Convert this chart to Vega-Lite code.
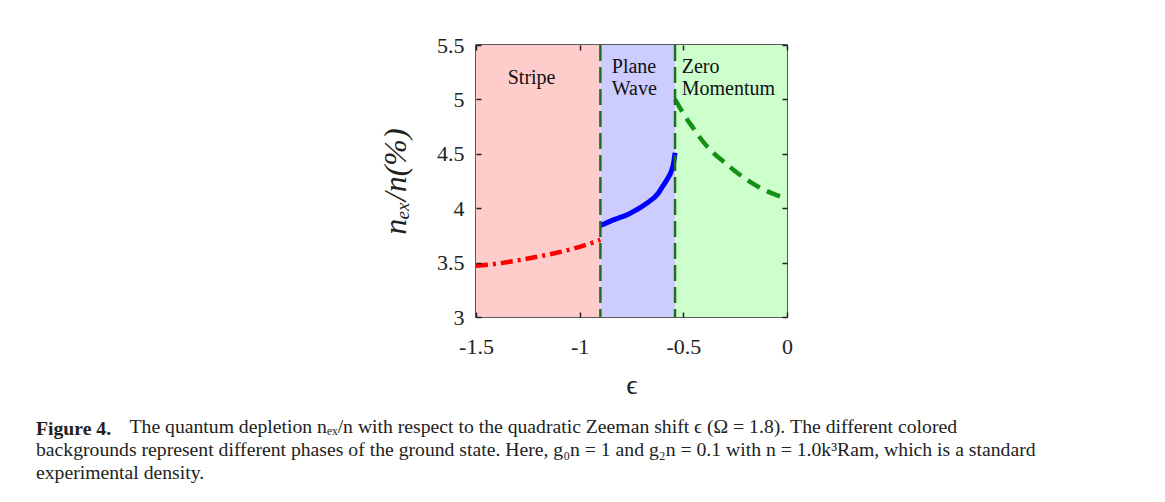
{
  "$schema": "https://vega.github.io/schema/vega-lite/v6.json",
  "width": 311,
  "height": 272,
  "autosize": {"type": "none"},
  "padding": {"left": 476, "top": 45, "right": 378, "bottom": 185},
  "background": "white",
  "config": {
    "view": {"stroke": "#222222", "strokeWidth": 1.5},
    "axis": {"grid": false, "domain": false, "tickColor": "#222222", "tickWidth": 1.5, "labelColor": "#222222", "titleColor": "#222222", "labelFont": "Liberation Serif", "titleFont": "Liberation Serif", "labelFontSize": 22, "titleFontWeight": "normal", "zindex": 1}
  },
  "title": {
    "text": "Figure 4.",
    "subtitle": [
      "\u200b\u00a0\u00a0\u00a0\u00a0\u00a0\u00a0\u00a0\u00a0\u00a0\u00a0\u00a0\u00a0\u00a0\u00a0\u00a0\u00a0\u00a0\u00a0\u00a0The quantum depletion nₑₓ/n with respect to the quadratic Zeeman shift ϵ (Ω = 1.8). The different colored",
      "backgrounds represent different phases of the ground state. Here, g₀n = 1 and g₂n = 0.1 with n = 1.0k³Ram, which is a standard",
      "experimental density."
    ],
    "orient": "bottom",
    "anchor": "start",
    "frame": "group",
    "dx": -440,
    "offset": 20,
    "font": "Liberation Serif",
    "fontSize": 19.7,
    "fontWeight": "bold",
    "color": "#222222",
    "subtitleFont": "Liberation Serif",
    "subtitleFontSize": 19.7,
    "subtitleColor": "#222222",
    "subtitlePadding": -22,
    "subtitleLineHeight": 23
  },
  "datasets": {
    "bg": [
      {"x0": -1.5, "x1": -0.9, "phase": "Stripe"},
      {"x0": -0.9, "x1": -0.54, "phase": "Plane Wave"},
      {"x0": -0.54, "x1": 0, "phase": "Zero Momentum"}
    ],
    "curves": [
      {"eps": -1.5, "dep": 3.47, "phase": "Stripe"},
      {"eps": -1.4, "dep": 3.49, "phase": "Stripe"},
      {"eps": -1.3, "dep": 3.52, "phase": "Stripe"},
      {"eps": -1.2, "dep": 3.555, "phase": "Stripe"},
      {"eps": -1.1, "dep": 3.595, "phase": "Stripe"},
      {"eps": -1.0, "dep": 3.645, "phase": "Stripe"},
      {"eps": -0.9, "dep": 3.71, "phase": "Stripe"},
      {"eps": -0.9, "dep": 3.84, "phase": "Plane Wave"},
      {"eps": -0.84, "dep": 3.89, "phase": "Plane Wave"},
      {"eps": -0.76, "dep": 3.95, "phase": "Plane Wave"},
      {"eps": -0.68, "dep": 4.04, "phase": "Plane Wave"},
      {"eps": -0.62, "dep": 4.14, "phase": "Plane Wave"},
      {"eps": -0.6, "dep": 4.2, "phase": "Plane Wave"},
      {"eps": -0.58, "dep": 4.26, "phase": "Plane Wave"},
      {"eps": -0.56, "dep": 4.33, "phase": "Plane Wave"},
      {"eps": -0.55, "dep": 4.39, "phase": "Plane Wave"},
      {"eps": -0.545, "dep": 4.44, "phase": "Plane Wave"},
      {"eps": -0.54, "dep": 4.51, "phase": "Plane Wave"},
      {"eps": -0.54, "dep": 5.0, "phase": "Zero Momentum"},
      {"eps": -0.5, "dep": 4.87, "phase": "Zero Momentum"},
      {"eps": -0.45, "dep": 4.73, "phase": "Zero Momentum"},
      {"eps": -0.4, "dep": 4.6, "phase": "Zero Momentum"},
      {"eps": -0.35, "dep": 4.5, "phase": "Zero Momentum"},
      {"eps": -0.3, "dep": 4.42, "phase": "Zero Momentum"},
      {"eps": -0.25, "dep": 4.34, "phase": "Zero Momentum"},
      {"eps": -0.2, "dep": 4.27, "phase": "Zero Momentum"},
      {"eps": -0.15, "dep": 4.21, "phase": "Zero Momentum"},
      {"eps": -0.1, "dep": 4.16, "phase": "Zero Momentum"},
      {"eps": -0.05, "dep": 4.12, "phase": "Zero Momentum"},
      {"eps": 0, "dep": 4.09, "phase": "Zero Momentum"}
    ],
    "bounds": [{"b": -0.9}, {"b": -0.54}],
    "labels": [
      {"lx": -1.347, "ly": 5.2, "label": "Stripe"},
      {"lx": -0.845, "ly": 5.3, "label": "Plane"},
      {"lx": -0.845, "ly": 5.1, "label": "Wave"},
      {"lx": -0.508, "ly": 5.3, "label": "Zero"},
      {"lx": -0.508, "ly": 5.1, "label": "Momentum"}
    ]
  },
  "layer": [
    {
      "data": {"name": "bg"},
      "mark": {"type": "rect", "opacity": 1},
      "encoding": {
        "x": {"field": "x0", "type": "quantitative", "scale": {"domain": [-1.5, 0], "nice": false, "zero": false},
          "axis": {"orient": "bottom", "values": [-1.5, -1, -0.5, 0], "labelExpr": "datum.value + ''", "labelFont": "Liberation Serif", "labelFontSize": 22, "offset": -5, "tickSize": 5, "labelPadding": 19, "title": "ϵ", "titleFont": "Liberation Serif", "titleFontSize": 28, "titlePadding": 14, "labelFlush": false, "zindex": 1}},
        "x2": {"field": "x1"},
        "y": {"datum": 3, "type": "quantitative", "scale": {"domain": [3, 5.5], "nice": false, "zero": false},
          "axis": {"orient": "left", "values": [3, 3.5, 4, 4.5, 5, 5.5], "labelExpr": "datum.value + ''", "labelFont": "Liberation Serif", "labelFontSize": 22, "offset": -5, "tickSize": 5, "labelPadding": 12, "title": "nₑₓ/n(%)", "titleFont": "Liberation Serif", "titleFontSize": 32, "titleFontStyle": "italic", "titlePadding": 24, "labelFlush": false, "zindex": 1}},
        "y2": {"datum": 5.5},
        "fill": {"field": "phase", "type": "nominal", "scale": {"domain": ["Stripe", "Plane Wave", "Zero Momentum"], "range": ["#ffcccc", "#ccccff", "#ccffcc"]}, "legend": null}
      }
    },
    {
      "data": {"name": "curves"},
      "transform": [{"filter": "datum.phase === 'Stripe'"}],
      "mark": {"type": "line", "color": "#ff0000", "strokeWidth": 4.5, "strokeDash": [12, 5, 3, 5], "interpolate": "monotone"},
      "encoding": {
        "x": {"field": "eps", "type": "quantitative", "axis": {"orient": "top", "values": [-1.5, -1, -0.5, 0], "labels": false, "title": null, "offset": -5, "tickSize": 5, "zindex": 1}},
        "y": {"field": "dep", "type": "quantitative", "axis": {"orient": "right", "values": [3, 3.5, 4, 4.5, 5, 5.5], "labels": false, "title": null, "offset": -5, "tickSize": 5, "zindex": 1}}
      }
    },
    {
      "data": {"name": "curves"},
      "transform": [{"filter": "datum.phase === 'Plane Wave'"}],
      "mark": {"type": "line", "color": "#0000ff", "strokeWidth": 5, "interpolate": "monotone"},
      "encoding": {
        "x": {"field": "eps", "type": "quantitative", "axis": null},
        "y": {"field": "dep", "type": "quantitative", "axis": null}
      }
    },
    {
      "data": {"name": "curves"},
      "transform": [{"filter": "datum.phase === 'Zero Momentum'"}],
      "mark": {"type": "line", "color": "#149014", "strokeWidth": 4.5, "strokeDash": [14, 8], "interpolate": "monotone"},
      "encoding": {
        "x": {"field": "eps", "type": "quantitative", "axis": null},
        "y": {"field": "dep", "type": "quantitative", "axis": null}
      }
    },
    {
      "data": {"name": "bounds"},
      "mark": {"type": "rule", "color": "#1f6f1f", "strokeWidth": 2.5, "strokeDash": [16, 6]},
      "encoding": {
        "x": {"field": "b", "type": "quantitative", "axis": null}
      }
    },
    {
      "data": {"name": "labels"},
      "mark": {"type": "text", "align": "left", "baseline": "middle", "font": "Liberation Serif", "fontSize": 20, "color": "#111111"},
      "encoding": {
        "x": {"field": "lx", "type": "quantitative", "axis": null},
        "y": {"field": "ly", "type": "quantitative", "axis": null},
        "text": {"field": "label", "type": "nominal"}
      }
    }
  ]
}
